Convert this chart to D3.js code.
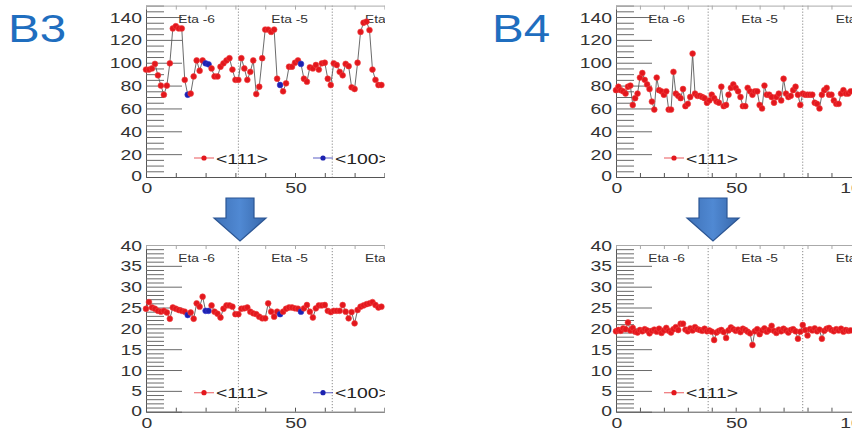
<!DOCTYPE html>
<html>
<head>
<meta charset="utf-8">
<script src="https://cdn.jsdelivr.net/npm/d3@7"></script>
<style>
body { margin: 0; background: #fff; }
svg text { font-family: "Liberation Sans", Arial, sans-serif; }
</style>
</head>
<body>
<div id="chart"></div>
<script>
// values, one per channel (channel = index in the array)
const b3TopValues = [94, 94, 95, 99, 89, 80, 72, 80, 99.5, 130, 132, 130, 130, 85, 72, 73, 88, 102, 93, 102,
  99.5, 98.6, 95, 88, 88, 96.5, 99.5, 102, 104, 94, 85, 85, 104, 95, 85, 92, 102, 72.6, 79, 104,
  129, 129, 127, 129, 86, 80.5, 75, 82, 96.5, 96.5, 100, 102, 99, 86, 83.4, 96, 95, 98, 94, 99.5,
  100, 86, 80.5, 99.5, 98, 92, 89, 99, 97, 78.5, 77, 100, 127, 135, 136, 128.6, 94, 85, 80.5, 80.5];
const b3BottomValues = [24.7, 26.3, 25, 24.7, 24.2, 24, 24.2, 23.8, 22.3, 25, 24.7, 24.4, 24.2, 24, 23.2, 23.8, 22.3, 26, 25.2, 27.6,
  24.2, 24.2, 25.5, 24, 23.5, 22.6, 24.7, 25.5, 25.5, 25.2, 23.4, 23.4, 24.7, 24.8, 25, 24, 23.6, 23.4, 22.8, 22.4,
  22.4, 26, 24, 22.8, 24, 23.4, 24, 24.7, 25, 25, 24.8, 24.7, 24, 24.8, 25.6, 24, 22.6, 24.8, 25.5, 25.5,
  25.6, 24.2, 23.9, 24.2, 24.2, 24.2, 25.6, 24, 22.4, 23.9, 21.2, 24.4, 25.2, 25.5, 25.8, 26, 26.3, 25.6, 25, 25.2];
// channels drawn as <100> in B3
const b3BlueIdx = [14, 20, 21, 45, 52];

const b4TopValues = [76, 79, 76, 75, 73, 79, 80, 63, 69, 73, 87, 91, 85, 81, 77, 66, 59, 87, 76, 75,
  72, 75, 59, 59, 92, 73, 71, 69, 77, 62, 64, 70, 108, 73, 71, 71, 70, 69, 65, 67,
  72, 69, 66, 65, 79, 62, 63, 72, 78, 81, 78, 75, 70, 62, 62, 78, 75, 72, 75, 75,
  63, 60, 80, 72, 72, 70, 65, 70, 73, 67, 86, 73, 70, 71, 76, 79, 72, 63, 73, 72,
  72, 72, 72, 65, 64, 60, 72, 76, 78, 72, 72, 67, 64, 64, 73, 76, 73, 73, 75];
const b4BottomValues = [19.3, 19.6, 19.4, 20.0, 19.8, 21.4, 19.5, 20.1, 19.2, 19.0, 19.6, 19.3, 19.8, 19.5, 18.8, 19.4, 19.7, 19.2, 19.9, 18.9,
  19.5, 20.1, 19.4, 19.0, 19.8, 20.3, 19.6, 21.1, 21.1, 19.7, 19.3, 20.0, 19.5, 20.3, 19.8, 19.6, 19.4, 19.9, 19.3, 19.5,
  19.2, 17.2, 19.0, 19.4, 19.6, 19.1, 17.7, 19.5, 20.2, 19.8, 19.4, 19.7, 19.1, 19.9, 19.6, 19.2, 18.8, 16.0, 19.3, 19.8,
  18.6, 19.5, 20.0, 19.2, 19.6, 20.6, 19.4, 18.9, 19.7, 19.3, 19.9, 19.5, 19.0, 19.6, 19.8, 19.3, 17.5, 19.2, 20.8, 19.6,
  18.3, 19.8, 19.5, 20.0, 19.3, 19.7, 17.5, 19.4, 19.9, 20.1, 19.6, 19.3, 19.8, 19.5, 19.9, 19.2, 19.6, 19.4, 19.5];

const topTicks = [0, 20, 40, 60, 80, 100, 120, 140];
const bottomTicks = [0, 5, 10, 15, 20, 25, 30, 35, 40];
const xLabels = [0, 50, 100];
const etaNames = ["Eta -6", "Eta -5", "Eta -4"];
const b3EtaEdges = [0, 31, 62.5, 94];
const b4EtaEdges = [0, 38.5, 78, 117.5];
const b3Legend = ["<111>", "<100>"];
const b4Legend = ["<111>"];

const width = 859, height = 437;
const SX = 1.25; // the picture is stretched sideways, so is its text
const red = "#e3171d", blue = "#1c22b0";

const svg = d3.select("#chart").append("svg")
  .attr("width", width).attr("height", height);
const defs = svg.append("defs");

function stext(g, x, y, str, size, anchor, fill) {
  return g.append("text")
    .attr("transform", `translate(${x},${y}) scale(${SX},1)`)
    .attr("text-anchor", anchor)
    .attr("fill", fill)
    .style("font-size", size + "px")
    .text(str);
}

// big panel names
stext(svg, 14 + 23, 42, "B3", 38, "middle", "#1f6ebf");
stext(svg, 498 + 23, 42, "B4", 38, "middle", "#1f6ebf");

function panel(o) {
  const x = d3.scaleLinear().domain([0, o.xMax]).range(o.xRange);
  const y = d3.scaleLinear().domain([0, o.yMax]).range(o.yRange);
  const x0 = x(0);

  defs.append("clipPath").attr("id", o.id)
    .append("rect").attr("x", 90).attr("y", 0)
    .attr("width", o.clipRight - 90).attr("height", height);
  const g = svg.append("g").attr("clip-path", `url(#${o.id})`);

  // eta separators
  g.selectAll(".sep").data(o.edges.slice(1, -1)).enter().append("line")
    .attr("x1", d => x(d)).attr("x2", d => x(d))
    .attr("y1", y(o.yMax)).attr("y2", y(0))
    .attr("stroke", "#8a8a8a").attr("stroke-dasharray", "1.2,1.8");

  // y ticks drawn inside the frame
  const minor = d3.range(0, o.yMax + 1e-6, o.minorStep).filter(v => !o.majors.includes(v));
  const minorAxis = g.append("g").attr("transform", `translate(${x0},0)`)
    .call(d3.axisRight(y).tickValues(minor).tickSize(18).tickSizeOuter(0).tickFormat(""));
  const majorAxis = g.append("g").attr("transform", `translate(${x0},0)`)
    .call(d3.axisRight(y).tickValues(o.majors).tickSize(36).tickSizeOuter(0).tickFormat(""));
  majorAxis.select(".domain").remove();
  [minorAxis, majorAxis].forEach(a => {
    a.selectAll("line").attr("stroke", "#6a6a6a");
    a.select(".domain").attr("stroke", "#555");
  });

  // x ticks on bottom and top edges
  const xt = d3.range(0, o.xMax + 1, 10);
  const bottomAxis = g.append("g").attr("transform", `translate(0,${y(0)})`)
    .call(d3.axisTop(x).tickValues(xt).tickSize(4).tickSizeOuter(0).tickFormat(""));
  const topAxis = g.append("g").attr("transform", `translate(0,${y(o.yMax)})`)
    .call(d3.axisBottom(x).tickValues(xt).tickSize(4).tickSizeOuter(0).tickFormat(""));
  bottomAxis.selectAll("path,line").attr("stroke", "#555");
  topAxis.selectAll("path,line").attr("stroke", "#aaa");

  // eta labels
  etaNames.forEach((n, i) => {
    const a = o.edges[i], b = o.edges[i + 1];
    stext(g, x(a + 0.35 * (b - a)), y(o.yMax) + 17, n, 11, "start", "#333");
  });

  // series: one line through every channel, markers coloured by type
  const line = d3.line().x((d, i) => x(i)).y(d => y(d));
  g.append("path").datum(o.values)
    .attr("d", line).attr("fill", "none")
    .attr("stroke", "#5a5a5a").attr("stroke-width", 0.9);
  g.selectAll(".pt").data(o.values).enter().append("circle")
    .attr("cx", (d, i) => x(i)).attr("cy", d => y(d)).attr("r", 2.9)
    .attr("fill", (d, i) => o.blue.includes(i) ? blue : red)
    .attr("stroke", (d, i) => o.blue.includes(i) ? "#3a3ad0" : "#f04040")
    .attr("stroke-width", 0.6);

  // legend
  const ly = y(0) - 19;
  o.legend.forEach((lab, i) => {
    const mx = x0 + 58 + i * 119;
    const c = i === 0 ? red : blue;
    g.append("line").attr("x1", mx - 10).attr("x2", mx + 10).attr("y1", ly).attr("y2", ly)
      .attr("stroke", c).attr("stroke-opacity", 0.6).attr("stroke-width", 1.2);
    g.append("circle").attr("cx", mx).attr("cy", ly).attr("r", 2.6).attr("fill", c);
    stext(g, mx + 12, ly + 5.5, lab, 15.5, "start", "#222");
  });

  // tick labels
  o.majors.forEach(v => {
    stext(g, x0 - 4, y(v) + (v === 0 ? 4 : 5.5), String(v), 15.5, "end", "#333");
  });
  xLabels.filter(v => v <= o.xMax).forEach(v => {
    stext(g, x(v) + 1, y(0) + 16, String(v), 15.5, "middle", "#333");
  });
}

panel({ id: "c1", values: b3TopValues, blue: b3BlueIdx, xMax: 80, xRange: [146, 146 + 80 * 2.98],
  clipRight: 385, yMax: 150, yRange: [177, 5.6], majors: topTicks, minorStep: 5,
  edges: b3EtaEdges, legend: b3Legend });
panel({ id: "c2", values: b3BottomValues, blue: b3BlueIdx, xMax: 80, xRange: [146, 146 + 80 * 2.98],
  clipRight: 385, yMax: 40, yRange: [411.7, 245], majors: bottomTicks, minorStep: 1,
  edges: b3EtaEdges, legend: b3Legend });
panel({ id: "c3", values: b4TopValues, blue: [], xMax: 100, xRange: [616, 855.4],
  clipRight: 852, yMax: 150, yRange: [177, 5.6], majors: topTicks, minorStep: 5,
  edges: b4EtaEdges, legend: b4Legend });
panel({ id: "c4", values: b4BottomValues, blue: [], xMax: 100, xRange: [616, 855.4],
  clipRight: 852, yMax: 40, yRange: [411.7, 245], majors: bottomTicks, minorStep: 1,
  edges: b4EtaEdges, legend: b4Legend });

// down arrows between the panels
const grad = defs.append("linearGradient").attr("id", "arrowFill")
  .attr("x1", "0%").attr("x2", "100%").attr("y1", "0%").attr("y2", "0%");
grad.append("stop").attr("offset", "0%").attr("stop-color", "#3f72b8");
grad.append("stop").attr("offset", "50%").attr("stop-color", "#5089d3");
grad.append("stop").attr("offset", "100%").attr("stop-color", "#3767aa");
[240, 713].forEach(cx => {
  const pts = [[cx - 14, 198], [cx + 14, 198], [cx + 14, 218], [cx + 26, 218],
    [cx, 241], [cx - 26, 218], [cx - 14, 218]];
  svg.append("polygon").attr("points", pts.map(p => p.join(",")).join(" "))
    .attr("fill", "url(#arrowFill)").attr("stroke", "#2b5593").attr("stroke-width", 1.2);
});
</script>
</body>
</html>
